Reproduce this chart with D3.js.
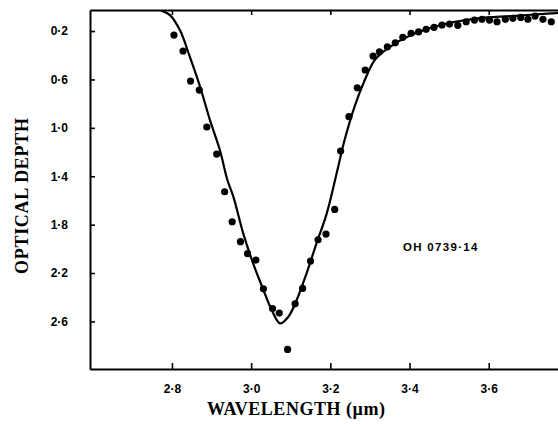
<!DOCTYPE html>
<html>
<head>
<meta charset="utf-8">
<script src="https://cdn.jsdelivr.net/npm/d3@7"></script>
<style>
  html, body { margin: 0; padding: 0; background: #fff; }
  svg { display: block; }
</style>
</head>
<body>
<svg id="chart" width="558" height="424"></svg>
<script>
// ---- data ----
const obsWavelength = [2.805, 2.828, 2.847, 2.869, 2.888, 2.913, 2.933, 2.952, 2.973, 2.991,
  3.012, 3.031, 3.054, 3.071, 3.092, 3.111, 3.130, 3.150, 3.169, 3.189,
  3.211, 3.226, 3.247, 3.268, 3.288, 3.308, 3.324, 3.344, 3.364, 3.383,
  3.404, 3.423, 3.442, 3.462, 3.482, 3.501, 3.522, 3.543, 3.564, 3.583,
  3.602, 3.621, 3.642, 3.661, 3.681, 3.699, 3.717, 3.737, 3.758];
const obsDepth = [0.233, 0.365, 0.613, 0.688, 0.993, 1.217, 1.528, 1.776, 1.941, 2.040,
  2.093, 2.330, 2.493, 2.531, 2.831, 2.454, 2.327, 2.101, 1.925, 1.878,
  1.674, 1.192, 0.908, 0.669, 0.522, 0.407, 0.371, 0.330, 0.297, 0.252,
  0.219, 0.206, 0.186, 0.169, 0.150, 0.142, 0.153, 0.123, 0.109, 0.103,
  0.109, 0.123, 0.103, 0.095, 0.087, 0.103, 0.076, 0.103, 0.123];

const modelWavelength = [2.755, 2.770, 2.795, 2.820, 2.845, 2.871, 2.896, 2.921, 2.940, 2.955,
  2.980, 3.005, 3.031, 3.052, 3.073, 3.094, 3.115, 3.140, 3.165, 3.191,
  3.216, 3.236, 3.261, 3.287, 3.312, 3.345, 3.404, 3.489, 3.573, 3.657, 3.758, 3.780];
const modelDepth = [0.000, 0.026, 0.068, 0.192, 0.412, 0.660, 0.936, 1.183, 1.431, 1.569,
  1.872, 2.120, 2.340, 2.506, 2.616, 2.561, 2.423, 2.202, 1.955, 1.707,
  1.376, 1.101, 0.826, 0.605, 0.440, 0.343, 0.233, 0.142, 0.095, 0.076, 0.054, 0.050];

const xTicks = [2.8, 3.0, 3.2, 3.4, 3.6];
const yTicks = [0.2, 0.6, 1.0, 1.4, 1.8, 2.2, 2.6];
const xTitle = "WAVELENGTH (\u00b5m)";
const yTitle = "OPTICAL DEPTH";
const sourceLabel = "OH 0739\u00b714";

// ---- layout ----
const plot = { left: 90, right: 558, top: 10, bottom: 369 };

const svg = d3.select("#chart");

const x = d3.scaleLinear().domain([2.593, 3.775]).range([plot.left, plot.right]);
const y = d3.scaleLinear().domain([0.026, 2.993]).range([plot.top, plot.bottom]);

const fmt = d => d3.format(".1f")(d).replace(".", "\u00b7");

svg.append("defs").append("clipPath").attr("id", "clip")
  .append("rect")
  .attr("x", plot.left).attr("y", plot.top)
  .attr("width", plot.right - plot.left).attr("height", plot.bottom - plot.top);

// axes
const tickFont = "'Liberation Sans', Arial, sans-serif";

const gLeft = svg.append("g").attr("transform", `translate(${plot.left},0)`)
  .call(d3.axisLeft(y).tickValues(yTicks).tickFormat(fmt).tickSizeInner(-5).tickSizeOuter(0).tickPadding(22));
const gBottom = svg.append("g").attr("transform", `translate(0,${plot.bottom})`)
  .call(d3.axisBottom(x).tickValues(xTicks).tickFormat(fmt).tickSizeInner(-6).tickSizeOuter(0).tickPadding(15));
const gTop = svg.append("g").attr("transform", `translate(0,${plot.top})`)
  .call(d3.axisTop(x).tickValues(xTicks).tickFormat("").tickSizeInner(-5).tickSizeOuter(0));

[gLeft, gBottom, gTop].forEach(g => {
  g.select(".domain").attr("stroke", "#000").attr("stroke-width", 2);
  g.selectAll(".tick line").attr("stroke", "#000").attr("stroke-width", 1.6);
  g.selectAll(".tick text")
    .attr("fill", "#000")
    .style("font-family", tickFont)
    .style("font-weight", "bold")
    .style("font-size", "12px");
});

// model curve
const line = d3.line()
  .x((d, i) => x(modelWavelength[i]))
  .y((d, i) => y(modelDepth[i]))
  .curve(d3.curveCatmullRom.alpha(0.5));

svg.append("path")
  .datum(modelDepth)
  .attr("clip-path", "url(#clip)")
  .attr("d", line)
  .attr("fill", "none")
  .attr("stroke", "#000")
  .attr("stroke-width", 2.2);

// observed points
svg.append("g")
  .selectAll("circle")
  .data(obsDepth)
  .join("circle")
  .attr("cx", (d, i) => x(obsWavelength[i]))
  .attr("cy", d => y(d))
  .attr("r", 3.6)
  .attr("fill", "#000");

// titles
const titleFont = "'Liberation Serif', 'DejaVu Serif', serif";
svg.append("text")
  .attr("transform", `translate(28,196) rotate(-90)`)
  .attr("text-anchor", "middle")
  .attr("textLength", 156)
  .attr("lengthAdjust", "spacing")
  .style("font-family", titleFont)
  .style("font-weight", "bold")
  .style("font-size", "18px")
  .attr("fill", "#000")
  .text(yTitle);

svg.append("text")
  .attr("x", 296).attr("y", 415)
  .attr("text-anchor", "middle")
  .attr("textLength", 178)
  .attr("lengthAdjust", "spacing")
  .style("font-family", titleFont)
  .style("font-weight", "bold")
  .style("font-size", "18px")
  .attr("fill", "#000")
  .text(xTitle);

svg.append("text")
  .attr("x", 403).attr("y", 251)
  .style("font-family", tickFont)
  .style("font-weight", "bold")
  .style("font-size", "11.5px")
  .style("letter-spacing", "1.3px")
  .attr("fill", "#000")
  .text(sourceLabel);
</script>
</body>
</html>
